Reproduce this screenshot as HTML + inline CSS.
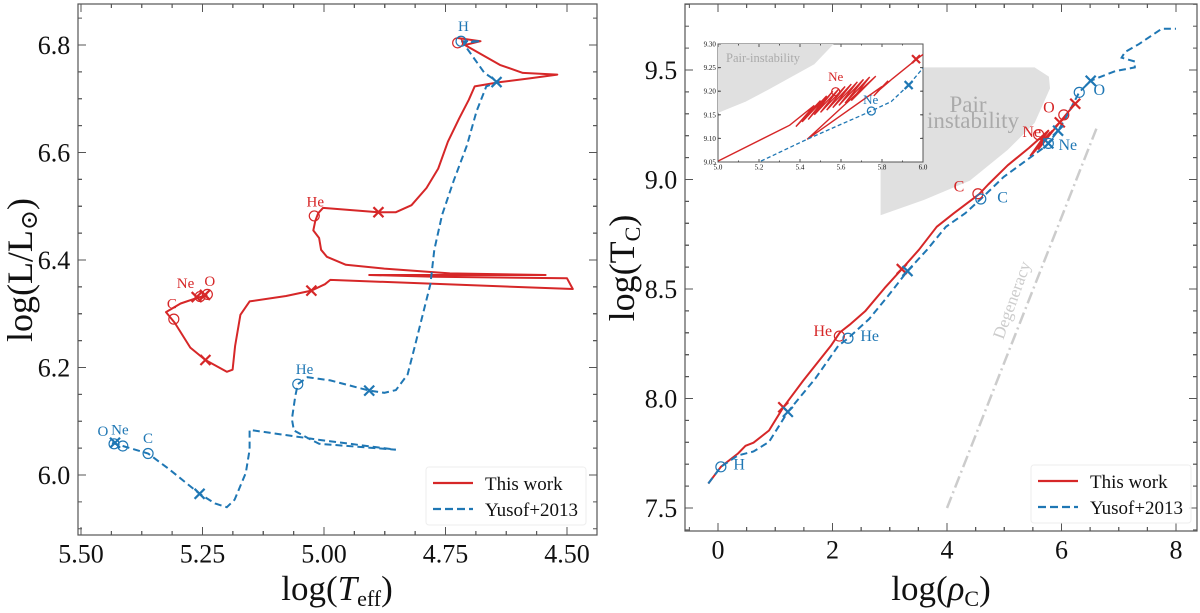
<!DOCTYPE html>
<html><head><meta charset="utf-8">
<style>
html,body{margin:0;padding:0;background:#fff;}
svg{display:block;font-family:"Liberation Serif","DejaVu Serif",serif;}
</style></head>
<body>
<svg id="fig" width="1200" height="613" viewBox="0 0 1200 613" xmlns="http://www.w3.org/2000/svg">
<g id="left"></g>
<g id="right"></g>
</svg>
<script>
// ---------- Left panel data (logTeff, logL) ----------
const hrRedT = [4.725,4.678,4.710,4.638,4.591,4.520,4.575,4.638,4.690,4.702,4.722,4.745,4.765,4.789,4.820,4.852,4.888,5.002,5.012,5.018,5.022,5.010,5.006,4.994,4.955,4.876,4.741,4.544,4.907,4.773,4.500,4.488,4.987,4.998,5.026,5.078,5.153,5.172,5.183,5.188,5.200,5.244,5.275,5.307,5.325,5.295,5.259,5.240];
const hrRedL = [6.813,6.807,6.800,6.763,6.748,6.745,6.738,6.731,6.723,6.698,6.663,6.620,6.570,6.534,6.502,6.489,6.489,6.497,6.487,6.473,6.455,6.441,6.419,6.406,6.391,6.384,6.375,6.372,6.372,6.369,6.366,6.346,6.363,6.355,6.343,6.333,6.323,6.298,6.240,6.196,6.192,6.214,6.237,6.283,6.303,6.319,6.330,6.335];
const hrBlueT = [4.718,4.678,4.714,4.670,4.642,4.666,4.686,4.706,4.733,4.757,4.773,4.781,4.797,4.813,4.828,4.852,4.876,4.907,4.987,5.034,5.054,5.059,5.066,5.062,5.034,5.010,4.852,5.006,5.153,5.153,5.161,5.184,5.200,5.224,5.256,5.319,5.362,5.414,5.437];
const hrBlueL = [6.807,6.807,6.804,6.748,6.731,6.723,6.677,6.613,6.548,6.484,6.419,6.355,6.298,6.240,6.187,6.158,6.153,6.157,6.176,6.182,6.169,6.147,6.104,6.083,6.069,6.058,6.047,6.065,6.084,6.047,6.004,5.954,5.940,5.947,5.965,6.011,6.040,6.054,6.060];
const hrRedCircT = [4.725,5.020,5.309,5.255,5.240];
const hrRedCircL = [6.804,6.482,6.290,6.332,6.336];
const hrRedXT = [4.888,5.026,5.244,5.262,5.245];
const hrRedXL = [6.489,6.343,6.214,6.331,6.335];
const hrBlueCircT = [4.718,5.054,5.362,5.414,5.432];
const hrBlueCircL = [6.807,6.169,6.040,6.054,6.058];
const hrBlueXT = [4.907,5.256,5.430,4.645];
const hrBlueXL = [6.157,5.965,6.060,6.731];
const hrRedLabels = ["He","Ne","O","C"];
const hrRedLabT = [5.018,5.285,5.235,5.313];
const hrRedLabL = [6.500,6.348,6.352,6.310];
const hrBlueLabels = ["H","He","C","O","Ne"];
const hrBlueLabT = [4.713,5.040,5.362,5.455,5.420];
const hrBlueLabL = [6.826,6.188,6.060,6.073,6.075];
const hrXTicks = [5.50,5.25,5.00,4.75,4.50];
const hrXTickLabels = ["5.50","5.25","5.00","4.75","4.50"];
const hrYTicks = [6.0,6.2,6.4,6.6,6.8];
const hrYTickLabels = ["6.0","6.2","6.4","6.6","6.8"];

// ---------- Right panel data (log rho_c, log T_c) ----------
const tcRedR = [-0.17,0.05,0.35,0.48,0.62,0.89,1.14,1.49,1.97,2.13,2.30,2.57,2.91,3.21,3.51,3.82,4.12,4.56,4.72,5.06,5.43,5.77,5.46,5.80,5.50,5.84,5.60,5.88,5.97,6.07,6.24];
const tcRedT = [7.612,7.688,7.749,7.784,7.798,7.854,7.960,8.082,8.240,8.302,8.337,8.398,8.504,8.591,8.679,8.784,8.846,8.933,8.977,9.065,9.144,9.223,9.109,9.214,9.120,9.222,9.140,9.232,9.261,9.293,9.346];
const tcBlueR = [-0.17,0.05,0.35,0.62,0.89,1.22,1.70,2.10,2.27,2.64,2.97,3.31,3.65,3.98,4.32,4.59,4.99,5.43,5.73,5.94,6.10,6.31,6.51,6.94,7.28,7.28,7.05,7.11,7.35,7.75,8.00];
const tcBlueT = [7.612,7.688,7.740,7.758,7.802,7.939,8.091,8.240,8.275,8.363,8.468,8.582,8.679,8.784,8.846,8.911,9.012,9.096,9.153,9.223,9.293,9.398,9.451,9.495,9.512,9.539,9.556,9.582,9.618,9.688,9.688];
const tcRedCircR = [2.12,4.54,6.04,5.60];
const tcRedCircT = [8.285,8.935,9.295,9.205];
const tcRedXR = [1.14,3.21,5.97,6.24];
const tcRedXT = [7.960,8.591,9.261,9.346];
const tcBlueCircR = [0.05,2.27,4.59,6.31,5.77];
const tcBlueCircT = [7.688,8.275,8.911,9.398,9.165];
const tcBlueXR = [1.22,3.31,5.94,6.51,5.77];
const tcBlueXT = [7.939,8.582,9.223,9.451,9.165];
const tcRedLabels = ["He","C","O","Ne"];
const tcRedLabR = [1.83,4.21,5.78,5.48];
const tcRedLabT = [8.285,8.945,9.305,9.195];
const tcBlueLabels = ["H","He","C","O","Ne"];
const tcBlueLabR = [0.37,2.65,4.97,6.66,6.11];
const tcBlueLabT = [7.675,8.262,8.895,9.385,9.135];
const pairR = [2.84,2.84,5.53,5.78,5.80,5.53,5.06,4.40,3.60,2.84];
const pairT = [8.837,9.512,9.512,9.470,9.416,9.258,9.135,8.995,8.907,8.837];
const degR = [4.0,6.61];
const degT = [7.50,9.232];
const tcXTicks = [0,2,4,6,8];
const tcXTickLabels = ["0","2","4","6","8"];
const tcYTicks = [7.5,8.0,8.5,9.0,9.5];
const tcYTickLabels = ["7.5","8.0","8.5","9.0","9.5"];

// ---------- Inset data ----------
const inRedR = [5.0,5.35,5.47,5.38,5.50,5.41,5.53,5.44,5.56,5.47,5.59,5.50,5.62,5.53,5.65,5.56,5.68,5.59,5.71,5.62,5.74,5.65,5.77,5.435,5.80,5.76,5.83,5.78,5.85,5.97,6.0];
const inRedT = [9.052,9.128,9.17,9.125,9.18,9.135,9.19,9.14,9.20,9.15,9.205,9.155,9.21,9.16,9.215,9.165,9.22,9.17,9.225,9.175,9.23,9.18,9.232,9.098,9.21,9.19,9.222,9.20,9.226,9.268,9.278];
const inBlueR = [5.21,5.434,5.748,5.845,5.93,6.0];
const inBlueT = [9.052,9.098,9.158,9.178,9.213,9.249];
const inPairR = [5.0,5.0,5.564,5.47,5.245,5.135,5.0];
const inPairT = [9.154,9.30,9.30,9.257,9.203,9.178,9.154];
const inXTicks = [5.0,5.2,5.4,5.6,5.8,6.0];
const inXTickLabels = ["5.0","5.2","5.4","5.6","5.8","6.0"];
const inYTicks = [9.05,9.10,9.15,9.20,9.25,9.30];
const inYTickLabels = ["9.05","9.10","9.15","9.20","9.25","9.30"];

const RED = "#d62728", BLUE = "#1f77b4";
const NS = "http://www.w3.org/2000/svg";
function mk(parent, tag, attrs, text){
  const e = document.createElementNS(NS, tag);
  for (const k in attrs) e.setAttribute(k, attrs[k]);
  if (text !== undefined) e.textContent = text;
  parent.appendChild(e); return e;
}
// axis functions
const hx = v => 81 + (5.5 - v) * 486;
const hy = v => 45 + (6.8 - v) * 537.5;
const rx = v => 718 + v * 57.25;
const ry = v => 70 + (9.5 - v) * 219;
const ix = v => 718 + (v - 5) * 205;
const iy = v => 44 + (9.30 - v) * 472;

function pathD(xs, ys, fx, fy){ return xs.map((v,i)=>(i?"L":"M")+fx(v).toFixed(1)+","+fy(ys[i]).toFixed(1)).join(" "); }

function ticks(g, box, fx, fy, xt, xl, yt, yl, nxm, nym, fs, len){
  const [x0,y0,x1,y1] = box;
  const st = {stroke:"#555","stroke-width":1};
  for (let i=0;i<xt.length-1;i++){ for(let k=-nxm;k<nxm*2;k++){ const v=xt[i]+(xt[i+1]-xt[i])*k/nxm; const p=fx(v); if(p<=x0||p>=x1) continue; mk(g,"line",Object.assign({x1:p,x2:p,y1:y1,y2:y1-len/2},st)); mk(g,"line",Object.assign({x1:p,x2:p,y1:y0,y2:y0+len/2},st)); } }
  for (let i=0;i<yt.length-1;i++){ for(let k=-nym;k<nym*2;k++){ const v=yt[i]+(yt[i+1]-yt[i])*k/nym; const p=fy(v); if(p<=y0||p>=y1) continue; mk(g,"line",Object.assign({x1:x0,x2:x0+len/2,y1:p,y2:p},st)); mk(g,"line",Object.assign({x1:x1,x2:x1-len/2,y1:p,y2:p},st)); } }
  xt.forEach((v,i)=>{ const p=fx(v);
    mk(g,"line",Object.assign({x1:p,x2:p,y1:y1,y2:y1-len},st)); mk(g,"line",Object.assign({x1:p,x2:p,y1:y0,y2:y0+len},st));
    const t=mk(g,"text",{x:p,y:y1+fs*1.05,"font-size":fs,"text-anchor":"middle",fill:"#111"},xl[i]);
    
    
  });
  yt.forEach((v,i)=>{ const p=fy(v);
    mk(g,"line",Object.assign({x1:x0,x2:x0+len,y1:p,y2:p},st)); mk(g,"line",Object.assign({x1:x1,x2:x1-len,y1:p,y2:p},st));
    const t=mk(g,"text",{x:x0-fs*0.3,y:p+fs*0.35,"font-size":fs,"text-anchor":"end",fill:"#111"},yl[i]);
    
    
  });
}
function circles(g, xs, ys, fx, fy, col, r){
  xs.forEach((v,i)=>{ const c=mk(g,"circle",{cx:fx(v),cy:fy(ys[i]),r:r,fill:"none",stroke:col,"stroke-width":1.2});
    
     });
}
function crosses(g, xs, ys, fx, fy, col, s){
  xs.forEach((v,i)=>{ const x=fx(v), y=fy(ys[i]);
    const p=mk(g,"path",{d:`M${x-s},${y-s}L${x+s},${y+s}M${x-s},${y+s}L${x+s},${y-s}`,stroke:col,"stroke-width":2.2,fill:"none"});
    
     });
}
function labels(g, labs, xs, ys, fx, fy, col, fs){
  labs.forEach((s,i)=>{ const t=mk(g,"text",{x:fx(xs[i]),y:fy(ys[i]),"font-size":fs,"text-anchor":"middle",fill:col},s);
    
     });
}
function legend(g, x, y){
  const b=mk(g,"rect",{x:x,y:y,width:160,height:58,rx:3,fill:"#fff","fill-opacity":0.85,stroke:"#eee"});
  
  
  mk(g,"line",{x1:x+7,x2:x+47,y1:y+16,y2:y+16,stroke:RED,"stroke-width":2.2});
  const t1=mk(g,"text",{x:x+59,y:y+23,"font-size":19,fill:"#111"},"This work");
  
  
  mk(g,"line",{x1:x+7,x2:x+47,y1:y+42,y2:y+42,stroke:BLUE,"stroke-width":2.2,"stroke-dasharray":"8,4"});
  const t2=mk(g,"text",{x:x+59,y:y+49,"font-size":19,fill:"#111"},"Yusof+2013");
  
  
}

// ---------- LEFT ----------
const L = document.getElementById("left");
mk(L,"rect",{x:78,y:4,width:519,height:531,fill:"#fff",stroke:"#555","stroke-width":1.2});
const redHR=mk(L,"path",{d:pathD(hrRedT,hrRedL,hx,hy),fill:"none",stroke:RED,"stroke-width":2,"stroke-linejoin":"round"});


const blueHR=mk(L,"path",{d:pathD(hrBlueT,hrBlueL,hx,hy),fill:"none",stroke:BLUE,"stroke-width":2,"stroke-dasharray":"7,4"});


circles(L,hrRedCircT,hrRedCircL,hx,hy,RED,5);
crosses(L,hrRedXT,hrRedXL,hx,hy,RED,5);
circles(L,hrBlueCircT,hrBlueCircL,hx,hy,BLUE,5);
crosses(L,hrBlueXT,hrBlueXL,hx,hy,BLUE,5);
labels(L,hrRedLabels,hrRedLabT,hrRedLabL,hx,hy,RED,15);
labels(L,hrBlueLabels,hrBlueLabT,hrBlueLabL,hx,hy,BLUE,15);
ticks(L,[78,4,597,535],hx,hy,hrXTicks,hrXTickLabels,hrYTicks,hrYTickLabels,4,4,26,8);
legend(L,426,467);
const lxT=mk(L,"text",{x:337,y:600,"font-size":35,"text-anchor":"middle",fill:"#111"});


lxT.innerHTML='log(<tspan font-style="italic">T</tspan><tspan font-size="22" dy="6">eff</tspan><tspan dy="-6">)</tspan>';
const lyT=mk(L,"text",{x:0,y:0,"font-size":36,"text-anchor":"middle",fill:"#111",transform:"translate(32,270) rotate(-90)"});


lyT.innerHTML='log(L/L<tspan font-size="24" dy="5">\u2299</tspan><tspan dy="-5">)</tspan>';

// ---------- RIGHT ----------
const R = document.getElementById("right");
mk(R,"rect",{x:685,y:4,width:512,height:527,fill:"#fff",stroke:"#555","stroke-width":1.2});
const pair=mk(R,"path",{d:pathD(pairR,pairT,rx,ry)+"Z",fill:"#e0e0e0",stroke:"none"});


const pl1=mk(R,"text",{x:968,y:112,"font-size":23,fill:"#aaa","text-anchor":"middle"},"Pair");


const pl2=mk(R,"text",{x:973,y:128,"font-size":23,fill:"#aaa","text-anchor":"middle"},"instability");


const deg=mk(R,"path",{d:pathD(degR,degT,rx,ry),stroke:"#ccc","stroke-width":2.5,"stroke-dasharray":"12,4,2,4",fill:"none"});


const dl=mk(R,"text",{x:0,y:0,"font-size":17,fill:"#ccc","text-anchor":"middle",transform:"translate(1017,302) rotate(-70)"},"Degeneracy");


const redTC=mk(R,"path",{d:pathD(tcRedR,tcRedT,rx,ry),fill:"none",stroke:RED,"stroke-width":2,"stroke-linejoin":"round"});


const blueTC=mk(R,"path",{d:pathD(tcBlueR,tcBlueT,rx,ry),fill:"none",stroke:BLUE,"stroke-width":2,"stroke-dasharray":"7,4"});


circles(R,tcRedCircR,tcRedCircT,rx,ry,RED,5);
crosses(R,tcRedXR,tcRedXT,rx,ry,RED,5);
circles(R,tcBlueCircR,tcBlueCircT,rx,ry,BLUE,5);
crosses(R,tcBlueXR,tcBlueXT,rx,ry,BLUE,5);
labels(R,tcRedLabels,tcRedLabR,tcRedLabT,rx,ry,RED,16);
labels(R,tcBlueLabels,tcBlueLabR,tcBlueLabT,rx,ry,BLUE,16);
ticks(R,[685,4,1197,531],rx,ry,tcXTicks,tcXTickLabels,tcYTicks,tcYTickLabels,4,5,26,8);
legend(R,1031,465);
const rxT=mk(R,"text",{x:941,y:600,"font-size":35,"text-anchor":"middle",fill:"#111"});


rxT.innerHTML='log(<tspan font-style="italic">ρ</tspan><tspan font-size="22" dy="6">C</tspan><tspan dy="-6">)</tspan>';
const ryT=mk(R,"text",{x:0,y:0,"font-size":36,"text-anchor":"middle",fill:"#111",transform:"translate(634,268) rotate(-90)"});


ryT.innerHTML='log(T<tspan font-size="22" dy="6">C</tspan><tspan dy="-6">)</tspan>';

// ---------- INSET ----------
const I = mk(R,"g",{});


mk(I,"rect",{x:718,y:44,width:205,height:118,fill:"#fff",stroke:"#555","stroke-width":1});
const ip=mk(I,"path",{d:pathD(inPairR,inPairT,ix,iy)+"Z",fill:"#e0e0e0"});


const ipl=mk(I,"text",{x:726,y:62,"font-size":12.5,fill:"#aaa"},"Pair-instability");


const ir=mk(I,"path",{d:pathD(inRedR,inRedT,ix,iy),fill:"none",stroke:RED,"stroke-width":1.4});


const ib=mk(I,"path",{d:pathD(inBlueR,inBlueT,ix,iy),fill:"none",stroke:BLUE,"stroke-width":1.3,"stroke-dasharray":"4,2.5"});


circles(I,[5.574],[9.199],ix,iy,RED,4);
circles(I,[5.748],[9.158],ix,iy,BLUE,4);
crosses(I,[5.966],[9.268],ix,iy,RED,4);
crosses(I,[5.93],[9.213],ix,iy,BLUE,4);
labels(I,["Ne"],[5.574],[9.222],ix,iy,RED,13);
labels(I,["Ne"],[5.745],[9.173],ix,iy,BLUE,13);
ticks(I,[718,44,923,162],ix,iy,inXTicks,inXTickLabels,inYTicks,inYTickLabels,2,1,7,3);
</script>
</body></html>
